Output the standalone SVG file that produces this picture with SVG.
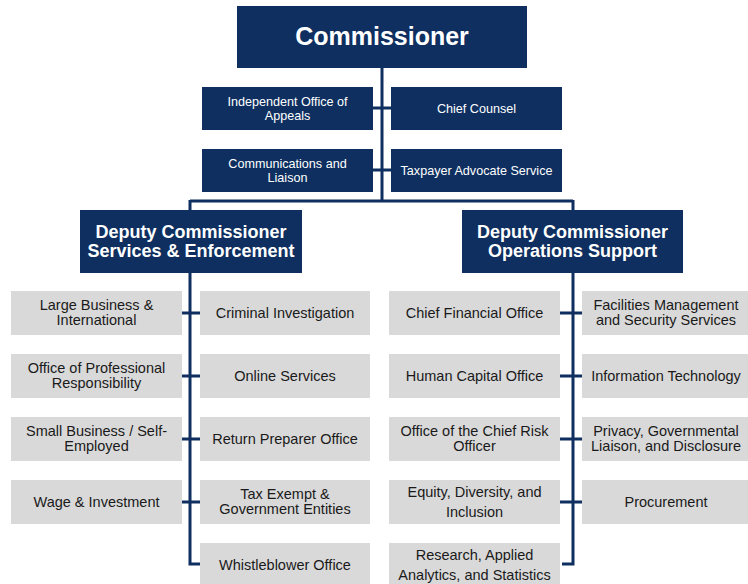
<svg xmlns="http://www.w3.org/2000/svg" width="748" height="584" viewBox="0 0 748 584">
  <style>
    text { font-family: "Liberation Sans", Arial, sans-serif; text-anchor: middle; }
    .navy { fill: #0e2f5f; }
    .gray { fill: #d9d9d9; }
    .t-top { font-size: 25px; font-weight: bold; fill: #ffffff; }
    .t-dep { font-size: 18px; font-weight: bold; fill: #ffffff; }
    .t-staff { font-size: 12.6px; fill: #ffffff; }
    .t-unit { font-size: 14.5px; fill: #1a1a1a; }
    .line { stroke: #0e2f5f; stroke-width: 3; fill: none; }
  </style>
  <rect width="748" height="584" fill="#ffffff"/>

  <!-- connectors -->
  <g id="connectors">
    <path class="line" d="M382 68 V201 M190 201 H573 M190 200 V210 M573 200 V210"/>
    <path class="line" d="M373 108 H391 M373 170 H391"/>
    <path class="line" d="M190 273 V564 H200 M182 313 H200 M182 376 H200 M182 439 H200 M182 502 H200"/>
    <path class="line" d="M573 273 V564 H562 M560 313 H582 M560 376 H582 M560 439 H582 M560 502 H582"/>
  </g>

  <!-- executive level -->
  <g id="commissioner">
    <rect class="navy" x="237" y="6" width="290" height="62"/>
    <text class="t-top" x="382" y="45">Commissioner</text>
  </g>
  <g id="appeals">
    <rect class="navy" x="202" y="87" width="171" height="43"/>
    <text class="t-staff" x="287.5" y="106">Independent Office of</text>
    <text class="t-staff" x="287.5" y="120">Appeals</text>
  </g>
  <g id="chief-counsel">
    <rect class="navy" x="391" y="87" width="171" height="43"/>
    <text class="t-staff" x="476.5" y="113">Chief Counsel</text>
  </g>
  <g id="communications">
    <rect class="navy" x="202" y="149" width="171" height="43"/>
    <text class="t-staff" x="287.5" y="168">Communications and</text>
    <text class="t-staff" x="287.5" y="182">Liaison</text>
  </g>
  <g id="taxpayer-advocate">
    <rect class="navy" x="391" y="149" width="171" height="43"/>
    <text class="t-staff" x="476.5" y="175">Taxpayer Advocate Service</text>
  </g>

  <!-- deputy level -->
  <g id="deputy-se">
    <rect class="navy" x="80" y="210" width="222" height="63"/>
    <text class="t-dep" x="191" y="238">Deputy Commissioner</text>
    <text class="t-dep" x="191" y="257">Services &amp; Enforcement</text>
  </g>
  <g id="deputy-os">
    <rect class="navy" x="462" y="210" width="221" height="63"/>
    <text class="t-dep" x="572.5" y="238">Deputy Commissioner</text>
    <text class="t-dep" x="572.5" y="257">Operations Support</text>
  </g>

  <!-- services & enforcement units -->
  <g id="lbi">
    <rect class="gray" x="11" y="291" width="171" height="44"/>
    <text class="t-unit" x="96.5" y="310">Large Business &amp;</text>
    <text class="t-unit" x="96.5" y="325">International</text>
  </g>
  <g id="opr">
    <rect class="gray" x="11" y="354" width="171" height="44"/>
    <text class="t-unit" x="96.5" y="373">Office of Professional</text>
    <text class="t-unit" x="96.5" y="388">Responsibility</text>
  </g>
  <g id="sbse">
    <rect class="gray" x="11" y="417" width="171" height="44"/>
    <text class="t-unit" x="96.5" y="436">Small Business / Self-</text>
    <text class="t-unit" x="96.5" y="451">Employed</text>
  </g>
  <g id="wi">
    <rect class="gray" x="11" y="480" width="171" height="44"/>
    <text class="t-unit" x="96.5" y="507">Wage &amp; Investment</text>
  </g>
  <g id="ci">
    <rect class="gray" x="200" y="291" width="170" height="44"/>
    <text class="t-unit" x="285" y="318">Criminal Investigation</text>
  </g>
  <g id="online">
    <rect class="gray" x="200" y="354" width="170" height="44"/>
    <text class="t-unit" x="285" y="381">Online Services</text>
  </g>
  <g id="rpo">
    <rect class="gray" x="200" y="417" width="170" height="44"/>
    <text class="t-unit" x="285" y="444">Return Preparer Office</text>
  </g>
  <g id="tege">
    <rect class="gray" x="200" y="480" width="170" height="44"/>
    <text class="t-unit" x="285" y="499">Tax Exempt &amp;</text>
    <text class="t-unit" x="285" y="514">Government Entities</text>
  </g>
  <g id="whistleblower">
    <rect class="gray" x="200" y="543" width="170" height="44"/>
    <text class="t-unit" x="285" y="570">Whistleblower Office</text>
  </g>

  <!-- operations support units -->
  <g id="cfo">
    <rect class="gray" x="389" y="291" width="171" height="44"/>
    <text class="t-unit" x="474.5" y="318">Chief Financial Office</text>
  </g>
  <g id="hco">
    <rect class="gray" x="389" y="354" width="171" height="44"/>
    <text class="t-unit" x="474.5" y="381">Human Capital Office</text>
  </g>
  <g id="ocro">
    <rect class="gray" x="389" y="417" width="171" height="44"/>
    <text class="t-unit" x="474.5" y="436">Office of the Chief Risk</text>
    <text class="t-unit" x="474.5" y="451">Officer</text>
  </g>
  <g id="edi">
    <rect class="gray" x="389" y="480" width="171" height="44"/>
    <text class="t-unit" x="474.5" y="497">Equity, Diversity, and</text>
    <text class="t-unit" x="474.5" y="517">Inclusion</text>
  </g>
  <g id="raas">
    <rect class="gray" x="389" y="543" width="171" height="44"/>
    <text class="t-unit" x="474.5" y="560">Research, Applied</text>
    <text class="t-unit" x="474.5" y="580">Analytics, and Statistics</text>
  </g>
  <g id="fmss">
    <rect class="gray" x="582" y="291" width="166" height="44"/>
    <text class="t-unit" x="666" y="310">Facilities Management</text>
    <text class="t-unit" x="666" y="325">and Security Services</text>
  </g>
  <g id="it">
    <rect class="gray" x="582" y="354" width="166" height="44"/>
    <text class="t-unit" x="666" y="381">Information Technology</text>
  </g>
  <g id="pgld">
    <rect class="gray" x="582" y="417" width="166" height="44"/>
    <text class="t-unit" x="666" y="436">Privacy, Governmental</text>
    <text class="t-unit" x="666" y="451">Liaison, and Disclosure</text>
  </g>
  <g id="procurement">
    <rect class="gray" x="582" y="480" width="166" height="44"/>
    <text class="t-unit" x="666" y="507">Procurement</text>
  </g>
</svg>
